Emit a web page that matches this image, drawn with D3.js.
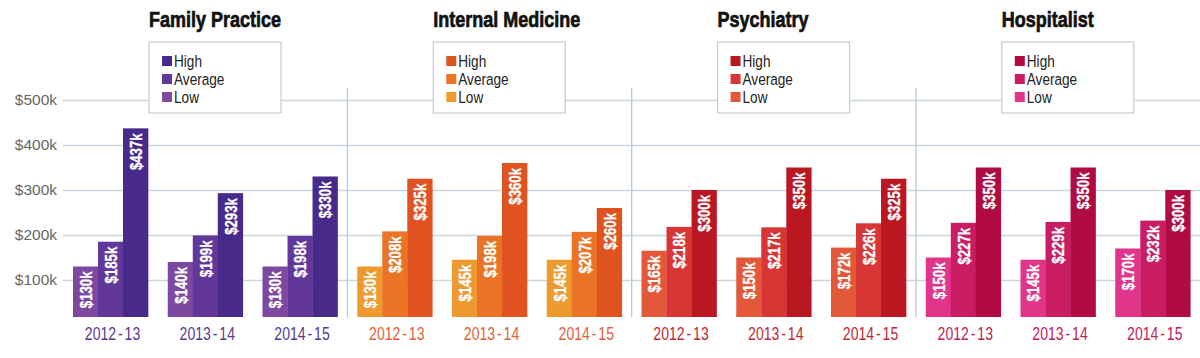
<!DOCTYPE html>
<html>
<head>
<meta charset="utf-8">
<script src="https://cdn.jsdelivr.net/npm/d3@7"></script>
<style>
  html, body { margin: 0; padding: 0; background: #fff; }
  svg { display: block; }
  text { font-family: "Liberation Sans", Arial, sans-serif; }
</style>
</head>
<body>
<svg id="chart" width="1200" height="358"></svg>
<script>
// ---- data ----
const specialties = ["Family Practice", "Internal Medicine", "Psychiatry", "Hospitalist"];
const years = ["2012-13", "2013-14", "2014-15"];
const seriesNames = ["Low", "Average", "High"];
const lowValues = [[130, 140, 130], [130, 145, 145], [165, 150, 172], [150, 145, 170]];
const averageValues = [[185, 199, 198], [208, 198, 207], [218, 217, 226], [227, 229, 232]];
const highValues = [[437, 293, 330], [325, 360, 260], [300, 350, 325], [350, 350, 300]];
const yTicks = [100, 200, 300, 400, 500];

// ---- styles ----
const palette = [
  { Low: "#7d49a0", Average: "#61379a", High: "#472a89", label: "#563a8f" },
  { Low: "#ef9a2e", Average: "#ea7325", High: "#e0521f", label: "#e2603a" },
  { Low: "#e4583a", Average: "#d83535", High: "#bb1722", label: "#c02a32" },
  { Low: "#e0358a", Average: "#ca1c63", High: "#b00b43", label: "#bf2259" }
];
const gridColor = "#cbd6df";
const sepColor = "#b9c8d4";
const narrow = 0.8; // horizontal condensing factor

const plotLeft = 63, plotRight = 1200;
const barBottom = 317;

const svg = d3.select("#chart");

// build rows
const rows = [];
specialties.forEach((s, si) => {
  years.forEach((yr, yi) => {
    rows.push({
      key: s + "|" + yr, specialty: s, si, year: yr,
      values: { Low: lowValues[si][yi], Average: averageValues[si][yi], High: highValues[si][yi] }
    });
  });
});

const x = d3.scaleBand().domain(rows.map(d => d.key)).range([73, 1190.3]).paddingInner(0.208).paddingOuter(0);
const xSub = d3.scaleBand().domain(seriesNames).range([0, x.bandwidth()]);
const y = d3.scaleLinear().domain([0, 500]).range([325, 100]);

// y axis + gridlines
const yAxis = d3.axisLeft(y).tickValues(yTicks).tickSize(-(plotRight - plotLeft)).tickPadding(6)
  .tickFormat(d => "$" + d + "k");
const gy = svg.append("g").attr("transform", `translate(${plotLeft},0)`).call(yAxis);
gy.select(".domain").remove();
gy.selectAll(".tick line").attr("stroke", gridColor).attr("stroke-width", 1.3);
gy.selectAll(".tick text")
  .attr("fill", "#666")
  .style("font-family", "'Liberation Sans', Arial, sans-serif")
  .style("font-size", "15.5px");

// vertical separators
const gap = x.step() - x.bandwidth();
specialties.slice(1).forEach(s => {
  const sx = x(s + "|" + years[0]) - gap / 2;
  svg.append("line")
    .attr("x1", sx).attr("x2", sx).attr("y1", 88).attr("y2", barBottom)
    .attr("stroke", sepColor).attr("stroke-width", 1.3);
});

// bars
const groups = svg.selectAll("g.group").data(rows).join("g")
  .attr("class", "group")
  .attr("transform", d => `translate(${x(d.key)},0)`);

groups.selectAll("rect").data(d => seriesNames.map(n => ({ n, v: d.values[n], si: d.si }))).join("rect")
  .attr("x", d => xSub(d.n))
  .attr("y", d => y(d.v))
  .attr("width", xSub.bandwidth() + 0.3)
  .attr("height", d => barBottom - y(d.v))
  .attr("fill", d => palette[d.si][d.n]);

groups.selectAll("text.val").data(d => seriesNames.map(n => ({ n, v: d.values[n] }))).join("text")
  .attr("class", "val")
  .attr("transform", d => `translate(${xSub(d.n) + xSub.bandwidth() / 2 + 0.5},${y(d.v) + 5}) rotate(-90) scale(${narrow},1)`)
  .attr("text-anchor", "end")
  .attr("dy", "0.36em")
  .attr("fill", "#fff")
  .attr("stroke", "#fff")
  .attr("stroke-width", 0.3)
  .style("font-weight", "bold")
  .style("font-size", "16.5px")
  .text(d => "$" + d.v + "k");

// x labels
groups.append("text")
  .attr("transform", `translate(${x.bandwidth() / 2 + 2},340) scale(0.78,1)`)
  .attr("text-anchor", "middle")
  .attr("fill", d => palette[d.si].label)
  .style("font-size", "18px")
  .each(function (d) {
    const parts = d.year.split("-");
    const t = d3.select(this);
    t.append("tspan").text(parts[0]);
    t.append("tspan").attr("dx", 2.5).text("-");
    t.append("tspan").attr("dx", 2.5).text(parts[1]);
  });

// titles + legends
specialties.forEach((s, si) => {
  const left = x(s + "|" + years[0]) + x.bandwidth() + 1;
  svg.append("text")
    .attr("transform", `translate(${left},27) scale(${narrow},1)`)
    .attr("fill", "#111")
    .attr("stroke", "#111")
    .attr("stroke-width", 0.7)
    .style("font-weight", "bold")
    .style("font-size", "22.5px")
    .text(s);

  const lg = svg.append("g").attr("transform", `translate(${left},42)`);
  lg.append("rect").attr("width", 132).attr("height", 71)
    .attr("fill", "#fff").attr("stroke", "#c6d1da").attr("stroke-width", 1.3);
  const legendOrder = seriesNames.slice().reverse();
  legendOrder.forEach((n, i) => {
    lg.append("rect").attr("x", 13).attr("y", 14 + i * 18).attr("width", 10).attr("height", 10)
      .attr("fill", palette[si][n]);
    lg.append("text")
      .attr("transform", `translate(25,${25 + i * 18}) scale(${narrow},1)`)
      .attr("fill", "#222")
      .style("font-size", "17px")
      .text(n);
  });
});
</script>
</body>
</html>
